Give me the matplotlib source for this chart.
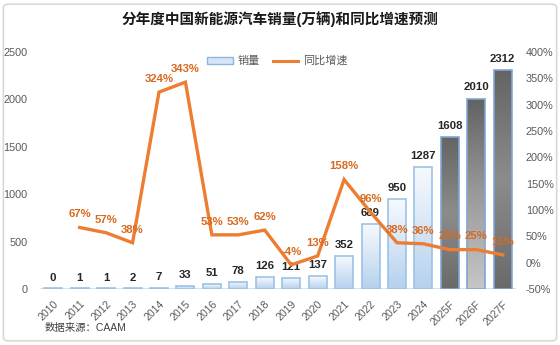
import numpy as np
import matplotlib
matplotlib.use('Agg')
import matplotlib.pyplot as plt
from matplotlib.patches import FancyBboxPatch, Patch
from matplotlib.lines import Line2D

plt.rcParams['font.family'] = ['Liberation Sans', 'Noto Sans CJK SC', 'DejaVu Sans']

# 年度销量(万辆)与同比增速(%)
years = ['2010', '2011', '2012', '2013', '2014', '2015', '2016', '2017', '2018',
         '2019', '2020', '2021', '2022', '2023', '2024', '2025F', '2026F', '2027F']
sales = [0, 1, 1, 2, 7, 33, 51, 78, 126, 121, 137, 352, 689, 950, 1287, 1608, 2010, 2312]
growth = [None, 67, 57, 38, 324, 343, 53, 53, 62, -4, 13, 158, 96, 38, 36, 25, 25, 15]

line_color = '#ED7D31'
pct_color = '#D9691F'
tick_color = '#595959'

fig = plt.figure(figsize=(5.6, 3.45), dpi=100)
ax = fig.add_axes([0.0714, 0.162, 0.85, 0.687])
ax2 = ax.twinx()

x = np.arange(len(years))
bars = ax.bar(x, sales, width=0.68, facecolor='none', zorder=2)


def gradient_fill(rect, stops):
    # vertical gradient clipped to the bar outline
    cols = np.array([matplotlib.colors.to_rgb(c) for c in stops])
    t = np.linspace(0, 1, 64)
    pos = np.linspace(0, 1, len(stops))
    img = np.stack([np.interp(t, pos, cols[:, k]) for k in range(3)], axis=1)
    img = img[:, None, :]
    x0, w, h = rect.get_x(), rect.get_width(), rect.get_height()
    im = ax.imshow(img, extent=[x0, x0 + w, 0, max(h, 1)], origin='upper',
                   aspect='auto', zorder=1.5, interpolation='bilinear')
    im.set_clip_path(rect)


for rect, yr in zip(bars, years):
    if yr in ('2025F', '2027F'):
        stops = ['#646464', '#8c8c8c', '#6a6a6a']
        edge = '#7FA6D6'
    elif yr == '2026F':
        stops = ['#626262', '#9a9a9a', '#c6c6c6']
        edge = '#7FA6D6'
    else:
        stops = ['#F7FAFE', '#D7E6F6', '#B5D1EE']
        edge = '#9CC2E7'
    gradient_fill(rect, stops)
    rect.set_edgecolor(edge)
    rect.set_linewidth(1.2)
    if rect.get_height() < 8:
        rect.set_height(8)

for xi, v in zip(x, sales):
    ax.annotate(f'{v}', (xi, v), xytext=(0, 8), textcoords='offset points',
                ha='center', va='center', fontsize=8.2, fontweight='bold',
                color='#262626', zorder=3)

ax.set_xlim(-0.5, len(years) - 0.5)
ax.set_ylim(0, 2500)
ax.set_yticks(range(0, 2501, 500))
ax.set_xticks(x)
ax.set_xticklabels(years, rotation=45, ha='right', va='top',
                   rotation_mode='anchor', fontsize=7.6, color=tick_color)
ax.tick_params(axis='x', length=0, pad=7)
ax.tick_params(axis='y', length=0, pad=9, labelsize=7.8, labelcolor=tick_color)
for s in ax.spines.values():
    s.set_visible(False)
ax.axhline(0, color='#D9D9D9', lw=1.2, zorder=1)

gx = [xi for xi, g in zip(x, growth) if g is not None]
gy = [g for g in growth if g is not None]
ax2.plot(gx, gy, color=line_color, lw=2.4, zorder=4, solid_joinstyle='miter')
for xi, g in zip(gx, gy):
    ax2.annotate(f'{g}%', (xi, g), xytext=(0, 9.5), textcoords='offset points',
                 ha='center', va='center', fontsize=8.2, fontweight='bold',
                 color=pct_color, zorder=5)
ax2.set_ylim(-50, 400)
ax2.set_yticks(range(-50, 401, 50))
ax2.set_yticklabels([f'{t}%' for t in range(-50, 401, 50)])
ax2.tick_params(axis='y', length=0, pad=7, labelsize=7.8, labelcolor=tick_color)
for s in ax2.spines.values():
    s.set_visible(False)

fig.text(0.5, 0.945, '分年度中国新能源汽车销量(万辆)和同比增速预测', ha='center', va='center',
         fontsize=10.5, fontweight='bold', color='#1a1a1a')

handles = [Patch(facecolor='#D6E6F6', edgecolor='#8FB4DE', lw=1.0),
           Line2D([0], [0], color=line_color, lw=2.2)]
fig.legend(handles, ['销量', '同比增速'], loc='center', bbox_to_anchor=(0.495, 0.823),
           ncol=2, frameon=False, fontsize=8, labelcolor=tick_color,
           handlelength=2.3, handleheight=0.6, columnspacing=1.2, handletextpad=0.4)

fig.text(0.08, 0.05, '数据来源：CAAM', ha='left', va='center', fontsize=7.5, color='#404040')

fig.patches.append(FancyBboxPatch((0.006, 0.012), 0.988, 0.976,
                                  boxstyle='round,pad=0,rounding_size=0.01',
                                  transform=fig.transFigure, facecolor='none',
                                  edgecolor='#D9D9D9', lw=1.2))

fig.savefig('out.png', dpi=100)
